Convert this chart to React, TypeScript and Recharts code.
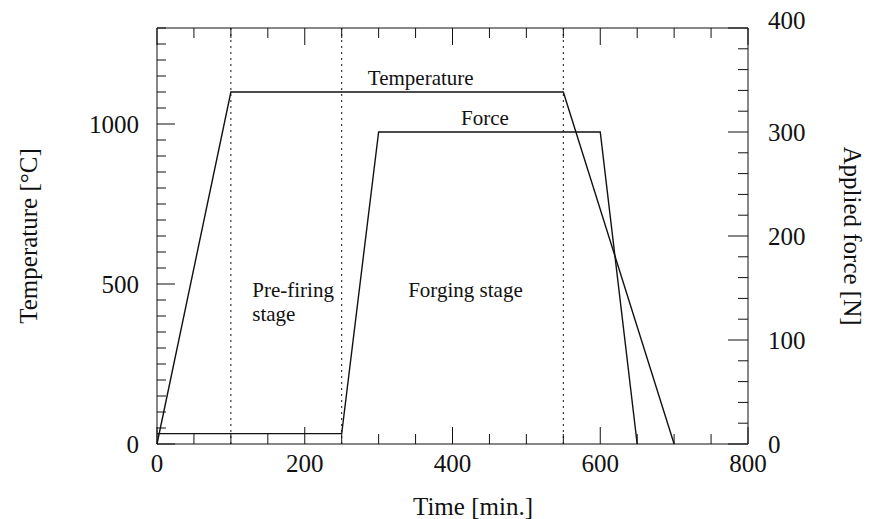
import { LineChart, Line, XAxis, YAxis, ReferenceLine, ReferenceDot } from "recharts";

// temperature profile (°C vs min)
const tempTime = [0, 100, 550, 700];
const tempValue = [0, 1100, 1100, 0];

// applied force profile (N vs min)
const forceTime = [0, 250, 300, 600, 650];
const forceValue = [10, 10, 300, 300, 0];

// dotted stage boundaries
const stageBounds = [100, 250, 550];

const xTicks = [0, 50, 100, 150, 200, 250, 300, 350, 400, 450, 500, 550, 600, 650, 700, 750, 800];
const xLabels = [0, 200, 400, 600, 800];
const tempTicks = [0, 50, 100, 150, 200, 250, 300, 350, 400, 450, 500, 550, 600, 650, 700, 750, 800, 850, 900, 950, 1000, 1050, 1100, 1150, 1200, 1250, 1300];
const tempLabels = [0, 500, 1000];
const forceTicks = [0, 20, 40, 60, 80, 100, 120, 140, 160, 180, 200, 220, 240, 260, 280, 300, 320, 340, 360, 380, 400];
const forceLabels = [0, 100, 200, 300, 400];

const tempData = tempTime.map((t, i) => ({ time: t, temp: tempValue[i] }));
const forceData = forceTime.map((t, i) => ({ time: t, force: forceValue[i] }));

const W = 870;
const H = 519;
const TOP = 28;
const BOTTOM = 444;
const LEFT = 157;
const RIGHT = 748;
const INK = "#111";
const FONT = '"Liberation Serif", "DejaVu Serif", serif';

function XTick(props: any) {
  const { x, payload } = props;
  const major = xLabels.includes(payload.value);
  const len = major ? 17 : 10;
  return (
    <g>
      <line x1={x} x2={x} y1={BOTTOM} y2={BOTTOM - len} stroke={INK} />
      <line x1={x} x2={x} y1={TOP} y2={TOP + len} stroke={INK} />
      {major && (
        <text x={x} y={BOTTOM + 19} textAnchor="middle" dominantBaseline="central" fontSize={25} fontFamily={FONT} fill={INK}>
          {payload.value}
        </text>
      )}
    </g>
  );
}

function TempTick(props: any) {
  const { y, payload } = props;
  const major = tempLabels.includes(payload.value);
  const len = major ? 18 : 9;
  return (
    <g>
      <line x1={LEFT} x2={LEFT + len} y1={y} y2={y} stroke={INK} />
      {major && (
        <text x={LEFT - 18} y={y} textAnchor="end" dominantBaseline="central" fontSize={25} fontFamily={FONT} fill={INK}>
          {payload.value}
        </text>
      )}
    </g>
  );
}

function ForceTick(props: any) {
  const { y, payload } = props;
  const major = forceLabels.includes(payload.value);
  const len = major ? 20 : 10;
  // the top label sits a little above the frame in the original
  const ly = payload.value === 400 ? y - 8 : y;
  return (
    <g>
      <line x1={RIGHT} x2={RIGHT - len} y1={y} y2={y} stroke={INK} />
      {major && (
        <text x={RIGHT + 20} y={ly} textAnchor="start" dominantBaseline="central" fontSize={25} fontFamily={FONT} fill={INK}>
          {payload.value}
        </text>
      )}
    </g>
  );
}

const titleStyle = { fontSize: 25, fontFamily: FONT, fill: INK };

const leftTitle = () => {
  const cx = 28;
  const cy = (TOP + BOTTOM) / 2;
  return (
    <text x={cx} y={cy} transform={`rotate(-90, ${cx}, ${cy})`} textAnchor="middle" dominantBaseline="central" {...titleStyle}>
      Temperature [°C]
    </text>
  );
};

const rightTitle = () => {
  const cx = 852;
  const cy = (TOP + BOTTOM) / 2;
  return (
    <text x={cx} y={cy} transform={`rotate(90, ${cx}, ${cy})`} textAnchor="middle" dominantBaseline="central" {...titleStyle}>
      Applied force [N]
    </text>
  );
};

const bottomTitle = () => (
  <text x={473} y={506} textAnchor="middle" dominantBaseline="central" {...titleStyle}>
    Time [min.]
  </text>
);

const note = (lines: string[], anchor: "start" | "middle") => (props: any) => {
  const { x, y } = props.viewBox;
  return (
    <text x={x} y={y} textAnchor={anchor} fontSize={21} fontFamily={FONT} fill={INK}>
      {lines.map((s, i) => (
        <tspan key={s} x={x} dy={i === 0 ? 7 : 24}>
          {s}
        </tspan>
      ))}
    </text>
  );
};

export default function App() {
  return (
    <div style={{ position: "fixed", left: 0, top: 0, background: "#fff" }}>
      <LineChart width={W} height={H} margin={{ top: TOP, right: 0, bottom: 0, left: 0 }}>
        <XAxis
          dataKey="time"
          type="number"
          domain={[0, 800]}
          ticks={xTicks}
          interval={0}
          tick={<XTick />}
          tickLine={false}
          tickSize={0}
          tickMargin={0}
          height={H - BOTTOM}
          axisLine={{ stroke: INK }}
          label={bottomTitle}
        />
        <YAxis
          yAxisId="temp"
          type="number"
          domain={[0, 1300]}
          ticks={tempTicks}
          interval={0}
          tick={<TempTick />}
          tickLine={false}
          tickSize={0}
          tickMargin={0}
          width={LEFT}
          axisLine={{ stroke: INK }}
          label={leftTitle}
        />
        <YAxis
          yAxisId="force"
          orientation="right"
          type="number"
          domain={[0, 400]}
          ticks={forceTicks}
          interval={0}
          tick={<ForceTick />}
          tickLine={false}
          tickSize={0}
          tickMargin={0}
          width={W - RIGHT}
          axisLine={{ stroke: INK }}
          label={rightTitle}
        />
        <ReferenceLine yAxisId="temp" y={1300} stroke={INK} />
        {stageBounds.map((t) => (
          <ReferenceLine key={t} yAxisId="temp" x={t} stroke={INK} strokeDasharray="2 4" />
        ))}
        <Line
          yAxisId="temp"
          data={tempData}
          dataKey="temp"
          type="linear"
          stroke={INK}
          strokeWidth={1.4}
          dot={false}
          isAnimationActive={false}
        />
        <Line
          yAxisId="force"
          data={forceData}
          dataKey="force"
          type="linear"
          stroke={INK}
          strokeWidth={1.4}
          dot={false}
          isAnimationActive={false}
        />
        <ReferenceDot yAxisId="temp" x={357} y={1144} r={0} stroke="none" label={note(["Temperature"], "middle")} />
        <ReferenceDot yAxisId="temp" x={444} y={1019} r={0} stroke="none" label={note(["Force"], "middle")} />
        <ReferenceDot yAxisId="temp" x={129} y={481} r={0} stroke="none" label={note(["Pre-firing", "stage"], "start")} />
        <ReferenceDot yAxisId="temp" x={340} y={481} r={0} stroke="none" label={note(["Forging stage"], "start")} />
      </LineChart>
    </div>
  );
}
